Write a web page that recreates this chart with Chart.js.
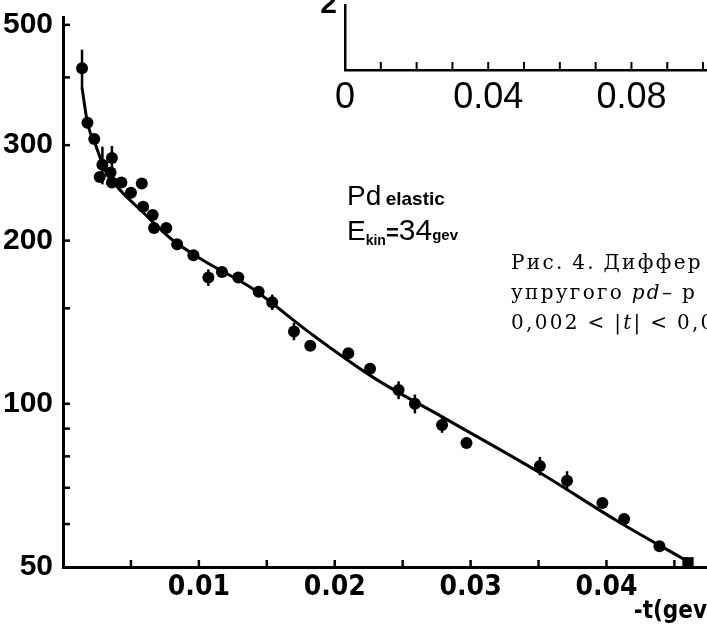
<!DOCTYPE html>
<html>
<head>
<meta charset="utf-8">
<script src="https://cdn.jsdelivr.net/npm/chart.js@4.4.1/dist/chart.umd.min.js"></script>
<style>
  html, body { margin: 0; padding: 0; background: #fff; }
  #wrap { position: relative; width: 707px; height: 632px; overflow: hidden; background: #fff; }
  #main { position: absolute; left: 0; top: 0; }
  #inset { position: absolute; left: 290px; top: -30px; }
  .note { position: absolute; white-space: nowrap; color: #000; font-family: "Liberation Sans", sans-serif; }
  .cap { position: absolute; white-space: nowrap; color: #000; font-family: "DejaVu Serif", serif;
         font-size: 20px; letter-spacing: 2.3px; word-spacing: -1px; line-height: 30px; }
</style>
</head>
<body>
<div id="wrap">
  <canvas id="main" width="707" height="632"></canvas>
  <canvas id="inset" width="417" height="140"></canvas>

  <div class="note" style="left:347px; top:180px;">
    <span style="font-size:28px;">Pd</span>
    <span style="font-size:19px; font-weight:bold;">elastic</span>
  </div>
  <div class="note" style="left:347px; top:213px;">
    <span style="font-size:28px;">E</span><span style="font-size:14px; font-weight:bold; position:relative; top:5px;">kin</span><span style="font-size:22px; font-weight:bold;">=</span><span style="font-size:30px;">34</span><span style="font-size:15px; font-weight:bold;">gev</span>
  </div>

  <div class="cap" style="left:511px; top:247px;">
    Рис. 4. Диффер<br>
    упругого <i>pd</i>– р<br>
    0,002 &lt; |<i>t</i>| &lt; 0,0
  </div>
</div>

<script>
// измеренные точки: -t и dσ/dt
const dataT = [0.0014, 0.0018, 0.0023, 0.0029, 0.0036, 0.0035, 0.0036, 0.0027, 0.0043, 0.0050,
               0.0058, 0.0059, 0.0066, 0.0067, 0.0076, 0.0084, 0.0096, 0.0107, 0.0117, 0.0129,
               0.0144, 0.0154, 0.0170, 0.0182, 0.0210, 0.0226, 0.0247, 0.0259, 0.0279, 0.0297,
               0.0351, 0.0371, 0.0397, 0.0413, 0.0439, 0.0460];
const dataV = [416, 330, 308, 276, 284, 267, 256, 262, 256, 245,
               255, 231, 223, 211, 211, 197, 188, 171, 175, 171,
               161, 154, 136, 128, 124, 116, 106, 100, 91.4, 84.7,
               76.8, 72.1, 65.6, 61.3, 54.6, 50.9];
const dataErr = [34, 0, 0, 22, 15, 0, 0, 0, 0, 0,
                 0, 0, 0, 0, 0, 0, 0, 6, 0, 0,
                 0, 5, 5, 0, 0, 0, 4, 4, 3, 0,
                 3, 3, 0, 0, 0, 0];

// сглаживающая кривая
const fitT = [0.0014, 0.0018, 0.0024, 0.0031, 0.0042, 0.0057, 0.0079, 0.0103,
              0.0138, 0.0182, 0.0228, 0.0283, 0.0351, 0.0407, 0.0461];
const fitV = [383, 330, 300, 270, 248, 228, 202, 184,
              164, 135, 112, 93.4, 74.6, 61.0, 51];

// оси
const xTicks = [0.005, 0.01, 0.015, 0.02, 0.025, 0.03, 0.035, 0.04, 0.045];
const xTickLabels = ['', '0.01', '', '0.02', '', '0.03', '', '0.04', ''];
const yTicks = [50, 60, 70, 80, 90, 100, 150, 200, 300, 400, 500];
const yTickLabels = ['50', '', '', '', '', '100', '', '200', '300', '', '500'];

// вставка сверху
const insetTicks = [0, 0.01, 0.02, 0.03, 0.04, 0.05, 0.06, 0.07, 0.08, 0.09, 0.1];
const insetTickLabels = ['0', '', '', '', '0.04', '', '', '', '0.08', '', ''];

// засечки внутрь графика
const inwardTicks = {
  id: 'inwardTicks',
  afterDraw(chart, args, opts) {
    const ctx = chart.ctx;
    ctx.save();
    ctx.strokeStyle = '#000';
    ctx.lineWidth = opts.width || 2;
    (opts.axes || []).forEach(id => {
      const s = chart.scales[id];
      s.ticks.forEach(t => {
        if (t.value === s.min && !s.isHorizontal()) return;
        ctx.beginPath();
        if (s.isHorizontal()) {
          const px = s.getPixelForValue(t.value);
          ctx.moveTo(px, s.top);
          ctx.lineTo(px, s.top - opts.length);
        } else {
          const py = s.getPixelForValue(t.value);
          ctx.moveTo(s.right, py);
          ctx.lineTo(s.right + opts.length, py);
        }
        ctx.stroke();
      });
    });
    ctx.restore();
  }
};

// планки ошибок
const errorBars = {
  id: 'errorBars',
  afterDatasetsDraw(chart) {
    const ctx = chart.ctx;
    const xs = chart.scales.x, ys = chart.scales.y;
    ctx.save();
    ctx.strokeStyle = '#000';
    ctx.lineWidth = 2.5;
    dataT.forEach((t, i) => {
      const e = dataErr[i];
      if (!e) return;
      const px = xs.getPixelForValue(t);
      ctx.beginPath();
      ctx.moveTo(px, ys.getPixelForValue(dataV[i] + e));
      ctx.lineTo(px, ys.getPixelForValue(dataV[i] - e));
      ctx.stroke();
    });
    ctx.restore();
  }
};

function noPadX(s, h) {
  s.height = h;
  s.paddingLeft = 0;
  s.paddingRight = 0;
}
function noPadY(s, w) {
  s.width = w;
  s.paddingTop = 0;
  s.paddingBottom = 0;
}

const mainChart = new Chart(document.getElementById('main'), {
  type: 'scatter',
  data: {
    datasets: [{
      label: 'fit',
      data: fitT.map((t, i) => ({ x: t, y: fitV[i] })),
      showLine: true,
      borderColor: '#000',
      borderWidth: 3,
      pointRadius: 0,
      cubicInterpolationMode: 'monotone',
      fill: false
    }, {
      label: 'Pd elastic',
      data: dataT.map((t, i) => ({ x: t, y: dataV[i] })),
      pointStyle: dataT.map((t, i) => i === dataT.length - 1 ? 'rect' : 'circle'),
      pointRadius: dataT.map((t, i) => i === dataT.length - 1 ? 8 : 6),
      backgroundColor: '#000',
      borderColor: '#000',
      borderWidth: 0,
      clip: false
    }]
  },
  options: {
    responsive: false,
    animation: false,
    layout: { autoPadding: false, padding: { top: 17, right: 0, left: 0, bottom: 0 } },
    plugins: {
      legend: { display: false },
      tooltip: { enabled: false },
      inwardTicks: { axes: ['x', 'y'], length: 7, width: 2.5 }
    },
    scales: {
      x: {
        type: 'linear',
        min: 0,
        max: 0.0474,
        afterBuildTicks: s => { s.ticks = xTicks.map(v => ({ value: v })); },
        afterFit: s => noPadX(s, 65),
        ticks: {
          callback: (v, i) => xTickLabels[i],
          autoSkip: false,
          maxRotation: 0,
          padding: 4,
          color: '#000',
          font: { family: '"Liberation Sans Narrow", "DejaVu Sans Condensed", sans-serif', size: 28, weight: 'bold' }
        },
        grid: { drawOnChartArea: false, drawTicks: false },
        border: { display: true, color: '#000', width: 3 },
        title: {
          display: true,
          text: '-t(gev',
          align: 'end',
          color: '#000',
          padding: { top: 0, bottom: 6 },
          font: { family: '"Liberation Sans Narrow", "DejaVu Sans Condensed", sans-serif', size: 24, weight: 'bold' }
        }
      },
      y: {
        type: 'logarithmic',
        min: 50,
        max: 517,
        afterBuildTicks: s => { s.ticks = yTicks.map(v => ({ value: v })); },
        afterFit: s => noPadY(s, 63),
        ticks: {
          callback: (v, i) => yTickLabels[i],
          autoSkip: false,
          padding: 10,
          color: '#000',
          font: { family: '"Liberation Sans", sans-serif', size: 30, weight: 'bold' }
        },
        grid: { drawOnChartArea: false, drawTicks: false },
        border: { display: true, color: '#000', width: 3 }
      }
    }
  },
  plugins: [inwardTicks, errorBars]
});

const insetChart = new Chart(document.getElementById('inset'), {
  type: 'scatter',
  data: { datasets: [{ data: [] }] },
  options: {
    responsive: false,
    animation: false,
    layout: { autoPadding: false, padding: { top: 35, right: 0, left: 0, bottom: 0 } },
    plugins: {
      legend: { display: false },
      tooltip: { enabled: false },
      inwardTicks: { axes: ['x'], length: 8, width: 2 }
    },
    scales: {
      x: {
        type: 'linear',
        min: 0,
        max: 0.1011,
        afterBuildTicks: s => { s.ticks = insetTicks.map(v => ({ value: v })); },
        afterFit: s => noPadX(s, 40),
        ticks: {
          callback: (v, i) => insetTickLabels[i],
          autoSkip: false,
          maxRotation: 0,
          padding: 6,
          color: '#000',
          font: { family: '"Liberation Sans", sans-serif', size: 36 }
        },
        grid: { drawOnChartArea: false, drawTicks: false },
        border: { display: true, color: '#000', width: 2.5 }
      },
      y: {
        type: 'linear',
        min: 0,
        max: 2,
        afterBuildTicks: s => { s.ticks = [{ value: 2 }]; },
        afterFit: s => noPadY(s, 55),
        ticks: {
          callback: () => '2',
          padding: 8,
          color: '#000',
          font: { family: '"Liberation Sans", sans-serif', size: 30, weight: 'bold' }
        },
        grid: { drawOnChartArea: false, drawTicks: false },
        border: { display: true, color: '#000', width: 2.5 }
      }
    }
  },
  plugins: [inwardTicks]
});
</script>
</body>
</html>
